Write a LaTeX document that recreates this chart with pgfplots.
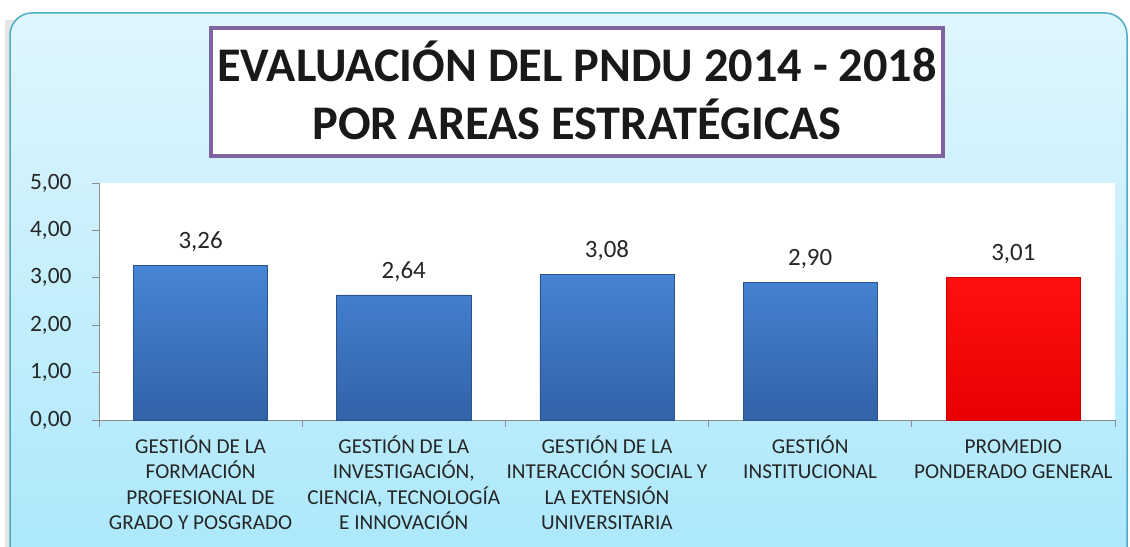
\documentclass[border=0pt]{standalone}
\usepackage{pgfplots}
\pgfplotsset{compat=1.18}
\usepackage{fontspec}
\setmainfont{Carlito}
\definecolor{bgtop}{HTML}{DFF6FD}
\definecolor{bgbot}{HTML}{A9E7FB}
\definecolor{bordercol}{HTML}{4BACC6}
\definecolor{titlebord}{HTML}{8064A2}
\definecolor{axgray}{HTML}{8C8C8C}
\definecolor{txt}{HTML}{262626}
\definecolor{bluetop}{HTML}{4785D4}
\definecolor{bluebot}{HTML}{3262A8}
\definecolor{redtop}{HTML}{FF1010}
\definecolor{redbot}{HTML}{E80000}
\pgfkeys{/pgf/number format/.cd, fixed, fixed zerofill, precision=2, use comma, assume math mode=true}
\begin{document}
\begin{tikzpicture}[x=1bp,y=1bp]
\useasboundingbox (0,0) rectangle (1130,547);
\begin{scope}
\clip (0,0) rectangle (1130,547);
\fill[black!10] (5,-40) rectangle (20,527);
\draw[bordercol, line width=1.5bp, rounded corners=22bp, top color=bgtop, bottom color=bgbot] (10,-40) rectangle (1127,534);
\end{scope}
\draw[titlebord, line width=4bp, fill=white] (211,391) rectangle (943,519);
\node[font=\fontsize{48.5}{58}\selectfont\bfseries, text=black!90, align=center] at (577,457) {EVALUACIÓN DEL PNDU 2014 - 2018\\ POR AREAS ESTRATÉGICAS};
\begin{axis}[
  at={(99bp,127bp)}, anchor=south west,
  width=1016bp, height=237bp, scale only axis,
  xmin=-0.5, xmax=4.5, ymin=0, ymax=5,
  axis background/.style={fill=white},
  axis x line*=bottom, axis y line*=left,
  axis line style={axgray, line width=0.8bp},
  tick align=outside,
  major tick length=7bp,
  tick style={axgray, line width=0.8bp},
  ytick={0,1,2,3,4,5},
  yticklabel style={font=\fontsize{23.5}{26}\selectfont, text=txt, xshift=-17bp},
  xtick={-0.5,0.5,1.5,2.5,3.5,4.5},
  xticklabels={},
  extra x ticks={0,1,2,3,4},
  extra x tick labels={{GESTIÓN DE LA\\FORMACIÓN\\PROFESIONAL DE\\GRADO Y POSGRADO},{GESTIÓN DE LA\\INVESTIGACIÓN,\\CIENCIA, TECNOLOGÍA\\E INNOVACIÓN},{GESTIÓN DE LA\\INTERACCIÓN SOCIAL Y\\LA EXTENSIÓN\\UNIVERSITARIA},{GESTIÓN\\INSTITUCIONAL},{\vphantom{Ó}PROMEDIO\\PONDERADO GENERAL}},
  extra x tick style={major tick length=0pt, xticklabel style={font=\fontsize{21.3}{25.5}\selectfont, text=txt, align=center, anchor=north, yshift=-12bp}},
  bar width=0.66,
  nodes near coords,
  nodes near coords style={font=\fontsize{25}{28}\selectfont, text=txt, yshift=10bp},
  clip=false,
]
\addplot[ybar, bar shift=0pt, draw=bluebot!85!black, line width=0.5bp, top color=bluetop, bottom color=bluebot] coordinates {(0,3.26) (1,2.64) (2,3.08) (3,2.90)};
\addplot[ybar, bar shift=0pt, draw=redbot!85!black, line width=0.5bp, top color=redtop, bottom color=redbot] coordinates {(4,3.01)};
\end{axis}
\end{tikzpicture}
\end{document}
